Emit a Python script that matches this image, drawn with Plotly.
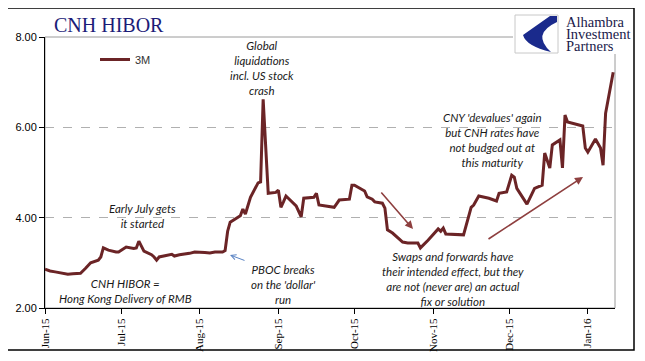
import plotly.graph_objects as go

# ---- data ----
dates = [
    "2015-06-01", "2015-06-03", "2015-06-05", "2015-06-08", "2015-06-10", "2015-06-12",
    "2015-06-15", "2015-06-17", "2015-06-19", "2015-06-22", "2015-06-23", "2015-06-24",
    "2015-06-26", "2015-06-29", "2015-06-30", "2015-07-03", "2015-07-06", "2015-07-07",
    "2015-07-08", "2015-07-10", "2015-07-13", "2015-07-14", "2015-07-15", "2015-07-16",
    "2015-07-17", "2015-07-21", "2015-07-22", "2015-07-24", "2015-07-28", "2015-07-30",
    "2015-08-03", "2015-08-05", "2015-08-07", "2015-08-10", "2015-08-11", "2015-08-12",
    "2015-08-13", "2015-08-17", "2015-08-18", "2015-08-19", "2015-08-21", "2015-08-24",
    "2015-08-25", "2015-08-26", "2015-08-28", "2015-08-31", "2015-09-01", "2015-09-02",
    "2015-09-03", "2015-09-04", "2015-09-08", "2015-09-10", "2015-09-11", "2015-09-15",
    "2015-09-16", "2015-09-17", "2015-09-23", "2015-09-24", "2015-09-25", "2015-09-29",
    "2015-09-30", "2015-10-01", "2015-10-05", "2015-10-06", "2015-10-08", "2015-10-09",
    "2015-10-12", "2015-10-13", "2015-10-14", "2015-10-16", "2015-10-19", "2015-10-20",
    "2015-10-22", "2015-10-26", "2015-10-27", "2015-10-29", "2015-10-30", "2015-11-03",
    "2015-11-04", "2015-11-05", "2015-11-06", "2015-11-13", "2015-11-16", "2015-11-17",
    "2015-11-19", "2015-11-23", "2015-11-26", "2015-11-27", "2015-11-30", "2015-12-02",
    "2015-12-03", "2015-12-04", "2015-12-08", "2015-12-11", "2015-12-14", "2015-12-15",
    "2015-12-17", "2015-12-18", "2015-12-21", "2015-12-22", "2015-12-23", "2015-12-24",
    "2015-12-28", "2015-12-30", "2015-12-31", "2016-01-01", "2016-01-04", "2016-01-06",
    "2016-01-07", "2016-01-08", "2016-01-11",
]
hibor_3m = [
    2.86, 2.82, 2.80, 2.76, 2.75, 2.76,
    2.77, 2.88, 3.00, 3.06, 3.13, 3.33,
    3.28, 3.24, 3.24, 3.35, 3.32, 3.33,
    3.48, 3.26, 3.18, 3.13, 3.06, 3.13,
    3.14, 3.19, 3.15, 3.18, 3.21, 3.24,
    3.23, 3.22, 3.24, 3.24, 3.27, 3.70,
    3.90, 4.04, 4.19, 4.08, 4.45, 4.77,
    4.79, 6.62, 4.54, 4.56, 4.61, 4.23,
    4.35, 4.48, 4.26, 4.02, 4.43, 4.45,
    4.54, 4.28, 4.23, 4.32, 4.39, 4.41,
    4.72, 4.72, 4.59, 4.46, 4.41, 4.35,
    4.32, 4.21, 3.73, 3.66, 3.50, 3.46,
    3.44, 3.44, 3.33, 3.44, 3.50, 3.75,
    3.70, 3.77, 3.64, 3.62, 4.23, 4.28,
    4.48, 4.43, 4.37, 4.54, 4.57, 4.94,
    4.90, 4.65, 4.30, 4.65, 4.72, 5.43,
    5.10, 5.61, 5.72, 5.10, 6.27, 6.12,
    6.05, 6.03, 5.54, 5.45, 5.74, 5.54,
    5.16, 6.31, 7.22,
]
series_name = "3M"
y_ticks = [2, 4, 6, 8]
x_range = ["2015-06-01", "2016-01-11 17:00"]

# ---- layout helpers (page pixel -> paper); page has an 8px body offset ----
OFF = 8
W, H = 629, 345
L, R, T, B = 37, 22, 29, 45
PW, PH = W - L - R, H - T - B


def px(x):
    return (x - OFF - L) / PW


def py(y):
    return (H - B - (y - OFF)) / PH


LINE = "#6B2426"
ANN_FONT = dict(family="Lato, Open Sans, sans-serif", size=11.5, color="#1a1a1a")

fig = go.Figure()
fig.add_trace(go.Scatter(
    x=dates, y=hibor_3m, mode="lines", name=series_name,
    line=dict(color=LINE, width=3),
))

annotations = []


def note(text, x, y):
    annotations.append(dict(
        text="<i>" + text + "</i>", x=px(x), y=py(y), xref="paper", yref="paper",
        showarrow=False, xanchor="center", yanchor="middle", align="center",
        font=ANN_FONT,
    ))


note("Global<br>liquidations<br>incl. US stock<br>crash", 262, 68)
note("Early July gets<br>it started", 142, 216)
note("CNH HIBOR =<br>Hong Kong Delivery of RMB", 125, 291)
note("PBOC breaks<br>on the 'dollar'<br>run", 283, 284)
note("CNY 'devalues' again<br>but CNH rates have<br>not budged out at<br>this maturity", 492, 140)
note("Swaps and forwards have<br>their intended effect, but they<br>are not (never are) an actual<br>fix or solution", 453, 279)

# title
annotations.append(dict(
    text="CNH HIBOR", x=px(52), y=py(25), xref="paper", yref="paper",
    showarrow=False, xanchor="left", yanchor="middle",
    font=dict(family="Liberation Serif, Times New Roman, serif", size=20, color="#1C1C78"),
))

# logo text
for i, word in enumerate(["Alhambra", "Investment", "Partners"]):
    annotations.append(dict(
        text=word, x=px(564), y=py(22 + 12 * i), xref="paper", yref="paper",
        showarrow=False, xanchor="left", yanchor="middle",
        font=dict(family="Liberation Serif, Times New Roman, serif", size=14.5, color="#1a1a4a"),
    ))


def arrow(hx, hy, tx, ty, color, width, head):
    annotations.append(dict(
        text="", x=px(hx), y=py(hy), xref="paper", yref="paper",
        ax=tx - hx, ay=ty - hy, showarrow=True, arrowcolor=color,
        arrowwidth=width, arrowhead=head, arrowsize=1,
    ))


arrow(230, 255, 246, 261, "#5B84C4", 1, 5)
arrow(413, 229, 380, 191, "#8E3F3F", 1.6, 2)
arrow(583, 177, 487, 240, "#8E3F3F", 1.6, 2)

shapes = [
    # plot-area border (gray)
    dict(type="rect", xref="paper", yref="paper", x0=0, y0=0, x1=1, y1=1,
         line=dict(color="#9a9a9a", width=1), layer="below"),
    # white background behind logo
    dict(type="rect", xref="paper", yref="paper", x0=px(513), x1=px(632), y0=py(54), y1=py(10),
         fillcolor="white", line=dict(width=0), layer="above"),
    # logo box
    dict(type="rect", xref="paper", yref="paper", x0=px(515), x1=px(558), y0=py(53), y1=py(15),
         fillcolor="white", line=dict(color="#c8c8c8", width=1), layer="above"),
    # blue swoosh
    dict(type="path", xref="paper", yref="paper", layer="above",
         path=(f"M {px(550)},{py(16)} L {px(557)},{py(16)} L {px(557)},{py(22)} "
               f"Q {px(531)},{py(34)} {px(551)},{py(52)} "
               f"Q {px(526)},{py(46)} {px(523)},{py(35)} Z"),
         fillcolor="#1A2A8C", line=dict(width=0)),
    # outer frame
    dict(type="rect", xref="paper", yref="paper", x0=px(7), x1=px(634), y0=py(350), y1=py(8),
         line=dict(color="black", width=1.5), layer="above"),
]

fig.update_layout(
    width=W, height=H,
    margin=dict(l=L, r=R, t=T, b=B, autoexpand=False),
    paper_bgcolor="white", plot_bgcolor="white",
    showlegend=True,
    legend=dict(x=px(95), y=py(45), xanchor="left", yanchor="top",
                bgcolor="rgba(0,0,0,0)",
                font=dict(family="Liberation Sans, Arial, sans-serif", size=11, color="#333333")),
    annotations=annotations,
    shapes=shapes,
    xaxis=dict(
        type="date", range=x_range, dtick="M1", tick0="2015-06-01",
        tickformat="%b-%y", tickangle=-90, ticks="outside", ticklen=5,
        tickcolor="black", showline=True, linecolor="black", linewidth=1,
        showgrid=False, zeroline=False, automargin=False,
        tickfont=dict(family="Liberation Serif, Times New Roman, serif", size=11, color="black"),
    ),
    yaxis=dict(
        range=[2, 8], tickvals=y_ticks, tickformat=".2f", ticks="outside", ticklen=5,
        tickcolor="black", showline=True, linecolor="black", linewidth=1,
        showgrid=True, gridcolor="#b0b0b0", griddash="dash", gridwidth=1, zeroline=False,
        automargin=False,
        tickfont=dict(family="Liberation Sans, Arial, sans-serif", size=11, color="black"),
    ),
)

fig.write_html("out.html")
